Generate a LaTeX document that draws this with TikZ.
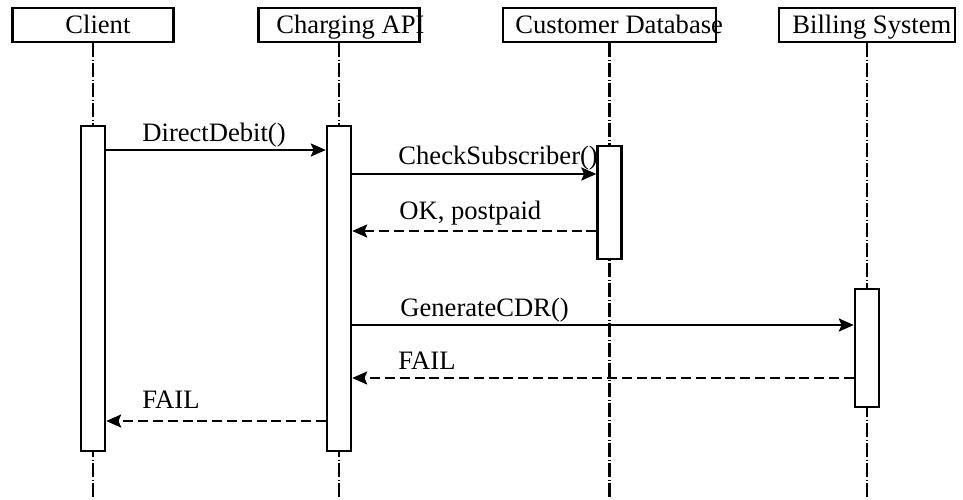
\documentclass[tikz,border=0pt]{standalone}
\usepackage{fontspec}
\setmainfont{Liberation Serif}
\usetikzlibrary{arrows.meta}

\begin{document}
\begin{tikzpicture}[x=0.5pt, y=-0.5pt]
\tikzstyle{every node} = [font=\fontsize{13.3}{16}\selectfont, inner sep=0]
\tikzstyle{head} = [draw, line width=1.2, rectangle, minimum height=17pt]
\tikzstyle{bar} = [draw, fill=white, line width=1.2, rectangle, minimum width=12pt]
\tikzstyle{life} = [draw, line width=1.1, dash pattern=on 7pt off 1.2pt on 0.6pt off 1.2pt]
\tikzstyle{call} = [draw, line width=1.2, -{Stealth[length=7.5pt, width=6.5pt, inset=1.4pt]}]
\tikzstyle{reply} = [call, dash pattern=on 5pt off 2.4pt]
\tikzstyle{lbl} = [anchor=base west]
\useasboundingbox (0,0) rectangle (963,499);
\node[head, minimum width=80.5pt] (client) at (93,25) {};
\node[head, minimum width=80.5pt] (api) at (339,25) {};
\node[head, minimum width=106.5pt] (db) at (609.5,25) {};
\node[head, minimum width=88pt] (billing) at (867,25) {};
\node[lbl] (clientname) at (65,33) {Client};
\node[lbl] (apiname) at (276,33) {Charging API};
\node[lbl] (dbname) at (515,33) {Customer Database};
\node[lbl] (billingname) at (792,33) {Billing System};
\coordinate (clientend) at (93,499);
\coordinate (apiend) at (339,499);
\coordinate (dbend) at (609.5,499);
\coordinate (billingend) at (867,499);
\draw[life] (client) -- (clientend);
\draw[life] (api) -- (apiend);
\draw[life] (db) -- (dbend);
\draw[life] (billing) -- (billingend);
\node[bar, minimum height=162.5pt] (clientbar) at (93,288.5) {};
\node[bar, minimum height=162.5pt] (apibar) at (339,288.5) {};
\node[bar, minimum height=56.5pt] (dbbar) at (609.5,202.5) {};
\node[bar, minimum height=59pt] (billingbar) at (867,348) {};
\draw[call] (clientbar.east |- 0,150) -- (apibar.west |- 0,150);
\draw[call] (apibar.east |- 0,174) -- (dbbar.west |- 0,174);
\draw[reply] (dbbar.west |- 0,231) -- (apibar.east |- 0,231);
\draw[call] (apibar.east |- 0,325) -- (billingbar.west |- 0,325);
\draw[reply] (billingbar.west |- 0,378) -- (apibar.east |- 0,378);
\draw[reply] (apibar.west |- 0,421) -- (clientbar.east |- 0,421);
\node[lbl] (m1) at (142,141) {DirectDebit()};
\node[lbl] (m2) at (398,164) {CheckSubscriber()};
\node[lbl] (m3) at (399,219) {OK, postpaid};
\node[lbl] (m4) at (400,316) {GenerateCDR()};
\node[lbl] (m5) at (398,369) {FAIL};
\node[lbl] (m6) at (142,408) {FAIL};
\end{tikzpicture}
\end{document}
